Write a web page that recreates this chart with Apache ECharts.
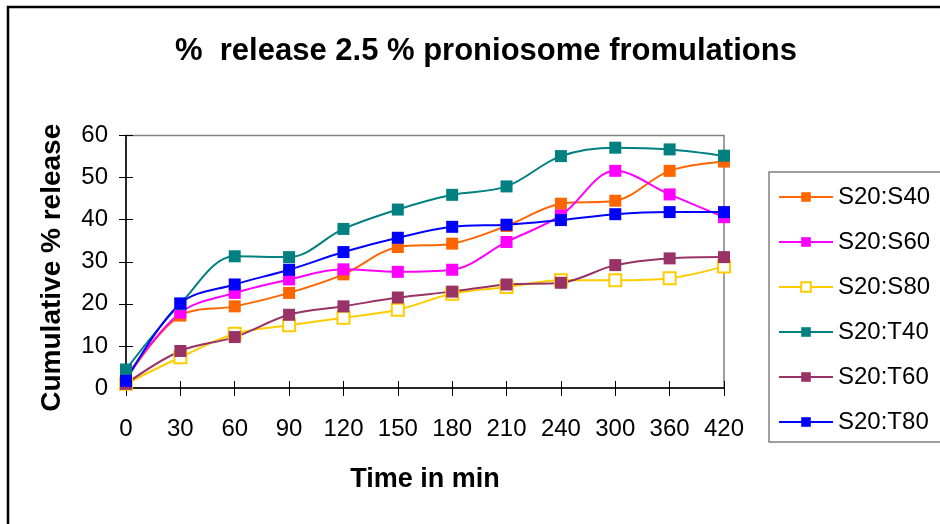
<!DOCTYPE html>
<html>
<head>
<meta charset="utf-8">
<script src="https://cdn.jsdelivr.net/npm/echarts@6/dist/echarts.min.js"></script>
<style>
  html, body { margin: 0; padding: 0; background: #fff; }
  #chart { width: 940px; height: 524px; }
</style>
</head>
<body>
<div id="chart"></div>
<script>
// time points (min)
const times = ['0', '30', '60', '90', '120', '150', '180', '210', '240', '300', '360', '420']

// cumulative % release
const s20S40 = [2.0, 17.2, 19.4, 22.6, 27.0, 33.5, 34.3, 38.5, 43.8, 44.5, 51.6, 53.8]
const s20S60 = [2.5, 17.9, 22.6, 25.8, 28.2, 27.6, 28.1, 34.7, 41.0, 51.6, 46.0, 40.6]
const s20S80 = [1.0, 7.3, 12.9, 14.9, 16.7, 18.6, 22.4, 24.0, 25.6, 25.6, 26.1, 28.9]
const s20T40 = [4.4, 20.0, 31.3, 31.1, 37.8, 42.4, 45.9, 47.9, 55.1, 57.1, 56.7, 55.2]
const s20T60 = [1.0, 8.8, 12.1, 17.4, 19.4, 21.5, 22.9, 24.6, 25.0, 29.2, 30.8, 31.1]
const s20T80 = [1.7, 20.1, 24.6, 28.1, 32.3, 35.7, 38.3, 38.8, 39.9, 41.3, 41.8, 41.8]

const yTicks = [0, 10, 20, 30, 40, 50, 60]

const font = 'Liberation Sans, Arial, sans-serif'

function makeSeries(name, data, color, hollow) {
  return {
    name: name,
    type: 'line',
    data: data,
    smooth: 0.35,
    symbol: 'rect',
    symbolSize: 12,
    lineStyle: { color: color, width: 2 },
    itemStyle: hollow
      ? { color: '#fff', borderColor: color, borderWidth: 2 }
      : { color: color, borderColor: color, borderWidth: 0 },
    emphasis: { disabled: true },
    z: 3
  }
}

const chart = echarts.init(document.getElementById('chart'))
chart.setOption({
  animation: false,
  textStyle: { fontFamily: font },
  title: {
    text: '%  release 2.5 % proniosome fromulations',
    left: 170,
    top: 31,
    textStyle: { fontSize: 31, fontWeight: 'bold', color: '#000', fontFamily: font }
  },
  grid: { left: 126, right: 216, top: 135.5, bottom: 136, show: true, borderColor: '#808080', borderWidth: 1.5 },
  legend: {
    orient: 'vertical',
    left: 778,
    top: 185,
    padding: 0,
    itemWidth: 54,
    itemHeight: 12,
    itemGap: 21,
    textStyle: { fontSize: 24, color: '#000', fontFamily: font, padding: [0, 0, 0, 0] },
    data: ['S20:S40', 'S20:S60', 'S20:S80', 'S20:T40', 'S20:T60', 'S20:T80']
  },
  xAxis: [{
    type: 'category',
    data: times,
    boundaryGap: false,
    name: 'Time in min',
    nameLocation: 'middle',
    nameGap: 78,
    nameTextStyle: { fontSize: 27, fontWeight: 'bold', color: '#000', fontFamily: font },
    axisLine: { lineStyle: { color: '#000', width: 1.5 } },
    axisTick: { alignWithLabel: true, length: 8, lineStyle: { color: '#000' } },
    axisLabel: { fontSize: 24, color: '#000', margin: 29, fontFamily: font },
    splitLine: { show: false }
  }, {
    type: 'category',
    data: times,
    boundaryGap: false,
    position: 'bottom',
    axisLine: { show: false },
    axisTick: { inside: true, length: 7, lineStyle: { color: '#000' } },
    axisLabel: { show: false },
    splitLine: { show: false }
  }],
  yAxis: [{
    type: 'value',
    min: yTicks[0],
    max: yTicks[yTicks.length - 1],
    interval: 10,
    name: 'Cumulative % release',
    nameLocation: 'middle',
    nameGap: 60,
    nameTextStyle: { fontSize: 28, fontWeight: 'bold', color: '#000', fontFamily: font, padding: [0, 12, 0, 0] },
    axisLine: { show: true, lineStyle: { color: '#000', width: 1.5 } },
    axisTick: { show: true, length: 7, lineStyle: { color: '#000' } },
    axisLabel: { fontSize: 24, color: '#000', margin: 18, fontFamily: font },
    splitLine: { show: false }
  }, {
    type: 'value',
    min: yTicks[0],
    max: yTicks[yTicks.length - 1],
    interval: 10,
    position: 'left',
    axisLine: { show: false },
    axisTick: { show: true, inside: true, length: 7, lineStyle: { color: '#000' } },
    axisLabel: { show: false },
    splitLine: { show: false }
  }],
  graphic: [
    { type: 'rect', shape: { x: 769, y: 172, width: 200, height: 270 }, style: { fill: 'none', stroke: '#808080', lineWidth: 1.5 }, z: -1 },
    { type: 'polyline', shape: { points: [[8, 524], [8, 7], [940, 7]] }, style: { fill: 'none', stroke: '#000', lineWidth: 2.5 } }
  ],
  series: [
    makeSeries('S20:S40', s20S40, '#FF6600', false),
    makeSeries('S20:S60', s20S60, '#FF00FF', false),
    makeSeries('S20:S80', s20S80, '#FFCC00', true),
    makeSeries('S20:T40', s20T40, '#008080', false),
    makeSeries('S20:T60', s20T60, '#993366', false),
    makeSeries('S20:T80', s20T80, '#0000FF', false)
  ]
})
</script>
</body>
</html>
